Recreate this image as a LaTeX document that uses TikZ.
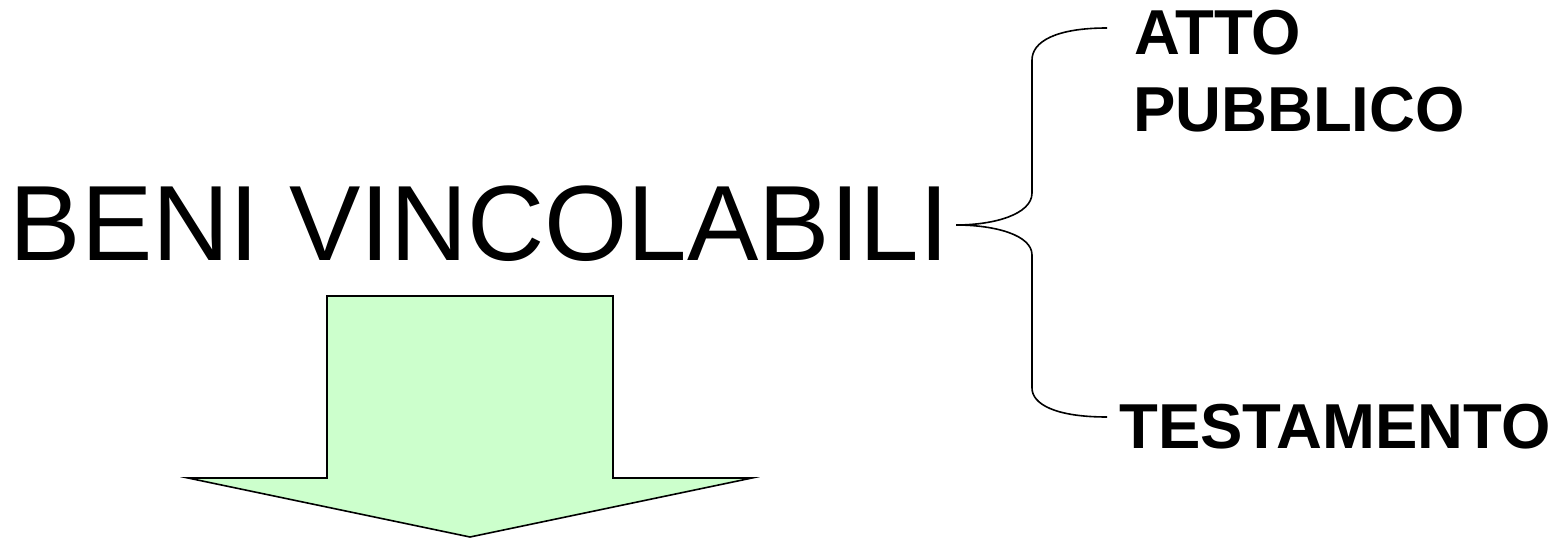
\documentclass[tikz,border=0pt]{standalone}
\usepackage{fontspec}
\setmainfont{Liberation Sans}
\definecolor{arrowgreen}{HTML}{CCFFCC}
\begin{document}
\begin{tikzpicture}[x=1pt,y=-1pt,
  bigtext/.style={inner sep=0pt,anchor=base west,font=\fontsize{107}{120}\selectfont},
  boldtext/.style={inner sep=0pt,anchor=base west,font=\fontsize{63.5}{76}\selectfont\bfseries},
  bracepath/.style={draw=black,line width=1.6pt},
  bigarrow/.style={draw=black,fill=arrowgreen,line width=1.6pt,line join=miter}]
\useasboundingbox (0,0) rectangle (1558,540);
\node[bigtext] (beni) at (9.5,261) {BENI VINCOLABILI};
\node[boldtext] (atto) at (1134,55) {ATTO};
\node[boldtext] (pubblico) at (1133,132) {PUBBLICO};
\node[boldtext] (testamento) at (1119,448) {TESTAMENTO};
% brace
\coordinate (btip) at (956,225);
\coordinate (btop) at (1107,28);
\coordinate (bbot) at (1107,417);
\draw[bracepath] (btop) .. controls (1055,28) and (1032,42) .. (1032,60)
  -- (1032,193) .. controls (1032,214) and (995,225) .. (btip)
  .. controls (995,225) and (1032,235) .. (1032,255)
  -- (1032,388) .. controls (1032,404) and (1055,417) .. (bbot);
% block arrow
\draw[bigarrow] (327,296) -- (613,296) -- (613,478) -- (752,478) -- (470,537)
  -- (188,478) -- (327,478) -- cycle;
\end{tikzpicture}
\end{document}
